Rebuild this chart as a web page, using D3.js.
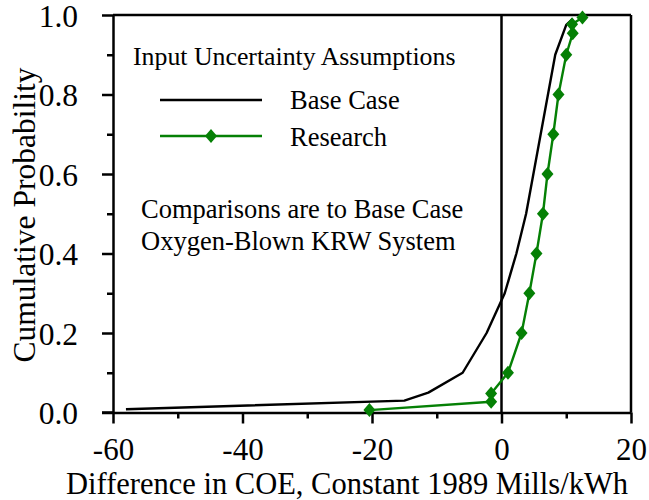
<!DOCTYPE html>
<html>
<head>
<meta charset="utf-8">
<script src="https://cdn.jsdelivr.net/npm/d3@7/dist/d3.min.js"></script>
<style>
  html, body { margin: 0; padding: 0; background: #fff; }
  svg { display: block; }
</style>
</head>
<body>
<svg id="chart" width="649" height="500"></svg>
<script>
// Cumulative probability of COE difference (mills/kWh, 1989 dollars)
const baseCaseX = [-58, -15, -11.3, -6, -2.3, 0.5, 2.3, 3.8, 8.3, 10, 11];
const baseCaseP = [0.008, 0.03, 0.05, 0.1, 0.2, 0.3, 0.4, 0.5, 0.9, 0.975, 0.99];

const researchX = [-20.4, -1.6, -1.6, 1.0, 3.1, 4.3, 5.4, 6.4, 7.1, 8.0, 8.8, 10.0, 11.0, 10.9, 12.5];
const researchP = [0.006, 0.027, 0.048, 0.1, 0.2, 0.3, 0.4, 0.5, 0.6, 0.7, 0.8, 0.9, 0.954, 0.977, 0.994];

const xMajorTicks = [-60, -40, -20, 0, 20];
const xMinorTicks = [-50, -30, -10, 10];
const yMajorTicks = [0, 0.2, 0.4, 0.6, 0.8, 1.0];
const yMinorTicks = [0.1, 0.3, 0.5, 0.7, 0.9];

const seriesNames = ["Base Case", "Research"];
const legendTitle = "Input Uncertainty Assumptions";
const noteLines = ["Comparisons are to Base Case", "Oxygen-Blown KRW System"];
const xTitle = "Difference in COE, Constant 1989 Mills/kWh";
const yTitle = "Cumulative Probability";

const GREEN = "#058005";
const FONT = "'Liberation Serif', 'Times New Roman', serif";

const svg = d3.select("#chart");
const plotL = 113, plotR = 631, plotT = 15, plotB = 412.5;

const x = d3.scaleLinear().domain([-60, 20]).range([plotL, plotR]);
const y = d3.scaleLinear().domain([0, 1]).range([plotB, plotT]);

// frame: top and right edges
svg.append("line").attr("x1", plotL).attr("x2", plotR).attr("y1", plotT).attr("y2", plotT)
  .attr("stroke", "#000").attr("stroke-width", 2.5);
svg.append("line").attr("x1", plotR).attr("x2", plotR).attr("y1", plotT).attr("y2", plotB)
  .attr("stroke", "#000").attr("stroke-width", 2.5);

// zero reference line
svg.append("line").attr("x1", x(0)).attr("x2", x(0)).attr("y1", plotT).attr("y2", plotB)
  .attr("stroke", "#000").attr("stroke-width", 2.5);

function styleAxis(g, size) {
  g.attr("font-family", null).attr("font-size", null);
  g.select(".domain").attr("stroke", "#000").attr("stroke-width", 2.5);
  g.selectAll(".tick line").attr("stroke", "#000").attr("stroke-width", 2.5);
  g.selectAll(".tick text").style("font-family", FONT).style("font-size", size + "px").attr("fill", "#000");
}

// x axis (labels use a plain hyphen for negatives)
const gx = svg.append("g").attr("transform", `translate(0,${plotB})`)
  .call(d3.axisBottom(x).tickValues(xMajorTicks).tickSize(11).tickSizeOuter(0)
    .tickFormat(d => String(d)));
styleAxis(gx, 31);
gx.selectAll(".tick text").attr("dy", null).attr("y", 47);
const gxm = svg.append("g").attr("transform", `translate(0,${plotB})`)
  .call(d3.axisBottom(x).tickValues(xMinorTicks).tickSize(6).tickFormat(""));
styleAxis(gxm, 31);
gxm.select(".domain").remove();

// y axis
const gy = svg.append("g").attr("transform", `translate(${plotL},0)`)
  .call(d3.axisLeft(y).tickValues(yMajorTicks).tickSize(11).tickSizeOuter(0).tickPadding(24)
    .tickFormat(d3.format(".1f")));
styleAxis(gy, 31.5);
gy.selectAll(".tick text").attr("dy", null).attr("y", 11);
const gym = svg.append("g").attr("transform", `translate(${plotL},0)`)
  .call(d3.axisLeft(y).tickValues(yMinorTicks).tickSize(6).tickFormat(""));
styleAxis(gym, 31.5);
gym.select(".domain").remove();
// x axis line extends slightly past the corner
svg.append("line").attr("x1", plotL - 11).attr("x2", plotL).attr("y1", plotB).attr("y2", plotB)
  .attr("stroke", "#000").attr("stroke-width", 2.5);

// axis titles
svg.append("text").attr("x", (plotL + plotR) / 2 - 25).attr("y", 493.5)
  .attr("text-anchor", "middle").style("font-family", FONT).style("font-size", "30.5px").text(xTitle);
svg.append("text").attr("transform", "translate(35,215) rotate(-90)")
  .attr("text-anchor", "middle").style("font-family", FONT).style("font-size", "31.5px").text(yTitle);

// data series
const line = d3.line().x(d => x(d[0])).y(d => y(d[1]));
const basePts = baseCaseX.map((v, i) => [v, baseCaseP[i]]);
const resPts = researchX.map((v, i) => [v, researchP[i]]);

svg.append("path").datum(basePts).attr("d", line)
  .attr("fill", "none").attr("stroke", "#000").attr("stroke-width", 2.4).attr("stroke-linejoin", "round");
svg.append("path").datum(resPts).attr("d", line)
  .attr("fill", "none").attr("stroke", GREEN).attr("stroke-width", 2.4).attr("stroke-linejoin", "round");

const diamond = "M0,-7L6,0L0,7L-6,0Z";
svg.append("g").selectAll("path").data(resPts).join("path")
  .attr("transform", d => `translate(${x(d[0])},${y(d[1])})`)
  .attr("d", diamond).attr("fill", GREEN);

// legend
const legendFont = size => t => t.style("font-family", FONT).style("font-size", size + "px");
svg.append("text").attr("x", 133).attr("y", 65).call(legendFont(25.8)).text(legendTitle);
svg.append("line").attr("x1", 160).attr("x2", 262).attr("y1", 100).attr("y2", 100)
  .attr("stroke", "#000").attr("stroke-width", 2.4);
svg.append("text").attr("x", 290).attr("y", 109).call(legendFont(26.5)).text(seriesNames[0]);
svg.append("line").attr("x1", 160).attr("x2", 262).attr("y1", 136).attr("y2", 136)
  .attr("stroke", GREEN).attr("stroke-width", 2.4);
svg.append("path").attr("transform", "translate(211,136)").attr("d", diamond).attr("fill", GREEN);
svg.append("text").attr("x", 290).attr("y", 146).call(legendFont(26.5)).text(seriesNames[1]);

svg.append("g").selectAll("text").data(noteLines).join("text")
  .attr("x", 141).attr("y", (d, i) => 218 + i * 32)
  .call(legendFont(26.5)).text(d => d);
</script>
</body>
</html>
